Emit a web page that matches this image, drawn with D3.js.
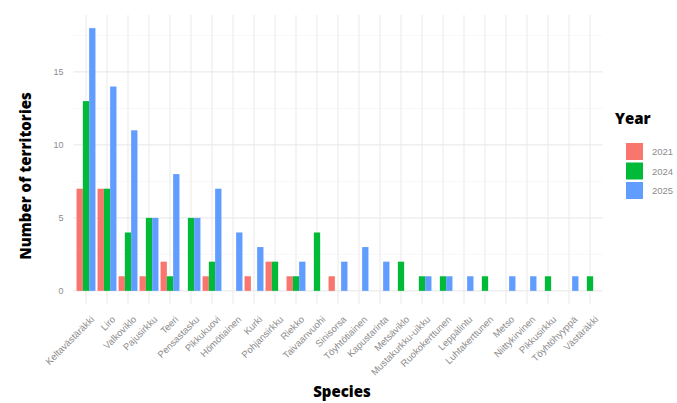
<!DOCTYPE html>
<html><head><meta charset="utf-8">
<script src="https://cdn.jsdelivr.net/npm/d3@7"></script>
<style>body{margin:0;background:#fff;}svg{display:block;}</style>
</head><body>
<script>
const species = ["Keltavästäräkki","Liro","Valkoviklo","Pajusirkku","Teeri","Pensastasku","Pikkukuovi","Hömötiainen","Kurki","Pohjansirkku","Riekko","Taivaanvuohi","Sinisorsa","Töyhtötiainen","Kapustarinta","Metsäviklo","Mustakurkku-uikku","Ruokokerttunen","Leppälintu","Luhtakerttunen","Metso","Niittykirvinen","Pikkusirkku","Töyhtöhyyppä","Västäräkki"];
const years = ["2021","2024","2025"];
const v2021 = [7,7,1,1,2,0,1,0,1,2,1,0,1,0,0,0,0,0,0,0,0,0,0,0,0];
const v2024 = [13,7,4,5,1,5,2,0,0,2,1,4,0,0,0,2,1,1,0,1,0,0,1,0,1];
const v2025 = [18,14,11,5,8,5,7,4,3,0,2,0,2,3,2,0,1,1,1,0,1,1,0,1,0];
const yTicks = [0,5,10,15];
const colors = ["#F8766D","#00BA38","#619CFF"];

(function(){
const W = 677, H = 403;
const svg = d3.select("body").append("svg").attr("width",W).attr("height",H);
const pLeft = 73.4, pRight = 602.6, pTop = 15, pBottom = 304;
const n = species.length;
const step = (pRight-pLeft)/(n+0.2);
const x = d3.scaleBand().domain(species).range([pLeft+0.1*step, pRight-0.1*step]).padding(0);
const y = d3.scaleLinear().domain([-0.9,18.9]).range([pBottom, pTop]);
const sub = d3.scaleBand().domain(years).range([0, x.bandwidth()*0.9]);
const series = [v2021, v2024, v2025];

const g = svg.append("g");
const minor = [2.5,7.5,12.5,17.5];
g.selectAll(".minor").data(minor).enter().append("line")
  .attr("x1",pLeft).attr("x2",pRight).attr("y1",d=>y(d)).attr("y2",d=>y(d))
  .attr("stroke","#f3f3f3").attr("stroke-width",0.6);
g.selectAll(".majy").data(yTicks).enter().append("line")
  .attr("x1",pLeft).attr("x2",pRight).attr("y1",d=>y(d)).attr("y2",d=>y(d))
  .attr("stroke","#ebebeb").attr("stroke-width",1.1);
g.selectAll(".majx").data(species).enter().append("line")
  .attr("x1",d=>x(d)+x.bandwidth()/2).attr("x2",d=>x(d)+x.bandwidth()/2)
  .attr("y1",pTop).attr("y2",pBottom)
  .attr("stroke","#ebebeb").attr("stroke-width",1.1);

years.forEach((yr,i)=>{
  svg.append("g").selectAll("rect").data(species.map((s,j)=>({s, v:series[i][j]})).filter(d=>d.v>0))
    .enter().append("rect")
    .attr("x",d=>x(d.s)+x.bandwidth()*0.05+sub(yr))
    .attr("width",sub.bandwidth())
    .attr("y",d=>y(d.v)).attr("height",d=>y(0)-y(d.v))
    .attr("fill",colors[i]);
});

const yAxis = d3.axisLeft(y).tickValues(yTicks).tickSize(0).tickPadding(10);
const ya = svg.append("g").attr("transform",`translate(${pLeft},0)`).call(yAxis);
ya.select(".domain").remove();
ya.selectAll("text").attr("fill","#8c8c8c").style("font-family","'Liberation Sans',Arial,sans-serif").style("font-size","9px");

const xAxis = d3.axisBottom(x).tickSize(0).tickPadding(0);
const xa = svg.append("g").attr("transform",`translate(0,${pBottom})`).call(xAxis);
xa.select(".domain").remove();
xa.selectAll("text").attr("fill","#8c8c8c")
  .style("font-family","'Liberation Sans',Arial,sans-serif").style("font-size","9.5px")
  .attr("text-anchor","end").attr("dy",0).attr("y",0)
  .attr("transform","translate(9,16) rotate(-45)");

svg.append("text").attr("x",342).attr("y",397).attr("text-anchor","middle")
  .style("font-family","'Open Sans',sans-serif").style("font-weight","800").style("font-size","15px")
  .attr("fill","#000").text("Species");
svg.append("text").attr("transform","translate(31,176) rotate(-90)").attr("text-anchor","middle")
  .style("font-family","'Open Sans',sans-serif").style("font-weight","800").style("font-size","15px")
  .attr("fill","#000").text("Number of territories");

const lg = svg.append("g");
lg.append("text").attr("x",615).attr("y",124)
  .style("font-family","'Open Sans',sans-serif").style("font-weight","800").style("font-size","15px")
  .attr("fill","#000").text("Year");
years.forEach((yr,i)=>{
  lg.append("rect").attr("x",626).attr("y",143+i*19.5).attr("width",17).attr("height",17).attr("fill",colors[i]);
  lg.append("text").attr("x",652).attr("y",155+i*19.5)
    .style("font-family","'Liberation Sans',Arial,sans-serif").style("font-size","9.5px")
    .attr("fill","#8c8c8c").text(yr);
});
})();
</script>
</body></html>
